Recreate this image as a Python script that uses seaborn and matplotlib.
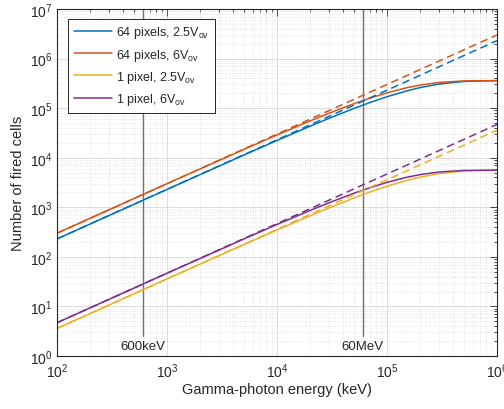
import numpy as np
import pandas as pd
import matplotlib
matplotlib.use("Agg")
import matplotlib.pyplot as plt
from matplotlib.ticker import LogLocator, NullFormatter
from matplotlib.lines import Line2D
import seaborn as sns

# Gamma-photon energy (keV)
energy = [100, 1000, 5000, 10000, 20000, 30000, 50000, 70000,
          100000, 150000, 200000, 300000, 500000, 1000000]

# Fired cells, including saturation of the finite cell count
px64_25 = [230, 2293, 11318, 22282, 43186, 62791, 98435, 129812,
           169963, 221929, 259686, 307044, 345244, 359395]
px64_6 = [300, 2988, 14692, 28786, 55267, 79632, 122674, 159106,
          203544, 256860, 292003, 330449, 354418, 359913]
px1_25 = [3.59, 35.83, 176.8, 348.2, 674.8, 981.1, 1538.0, 2028.3,
          2655.7, 3467.6, 4057.6, 4797.6, 5394.4, 5615.5]
px1_6 = [4.69, 46.69, 229.6, 449.8, 863.5, 1244.3, 1916.8, 2486.0,
         3180.4, 4013.4, 4562.5, 5163.3, 5537.8, 5623.6]

# Linear response without saturation (dashed)
energy_lin = [100, 1000000]
lin64_25 = [230, 2300000]
lin64_6 = [300, 3000000]
lin1_25 = [3.594, 35938]
lin1_6 = [4.6875, 46875]

labels = ["64 pixels, 2.5V$_{\\mathrm{ov}}$", "64 pixels, 6V$_{\\mathrm{ov}}$",
          "1 pixel, 2.5V$_{\\mathrm{ov}}$", "1 pixel, 6V$_{\\mathrm{ov}}$"]
colors = ["#0072BD", "#D95319", "#EDB120", "#7E2F8E"]

markers_x = [600, 60000]
marker_text = ["600keV", "60MeV"]

sns.set_theme(style="white")
plt.rcParams["font.family"] = ["Liberation Sans", "DejaVu Sans"]
plt.rcParams["mathtext.fontset"] = "custom"
plt.rcParams["mathtext.rm"] = "Liberation Sans"
plt.rcParams["mathtext.it"] = "Liberation Sans:italic"

fig = plt.figure(figsize=(5.04, 4.10), dpi=100)
ax = fig.add_axes([57 / 504, 53 / 410, 440 / 504, 347 / 410])

solid = [px64_25, px64_6, px1_25, px1_6]
dashed = [lin64_25, lin64_6, lin1_25, lin1_6]
for ys, c in zip(solid, colors):
    sns.lineplot(x=energy, y=ys, color=c, lw=1.1, ax=ax, legend=False,
                 estimator=None, sort=False)
for ys, c in zip(dashed, colors):
    sns.lineplot(x=energy_lin, y=ys, color=c, lw=1.1, ax=ax, legend=False,
                 estimator=None, sort=False, linestyle=(0, (5, 3)))

ax.set_xscale("log")
ax.set_yscale("log")
ax.set_xlim(1e2, 1e6)
ax.set_ylim(1, 1e7)

# reference energies
for xv, t in zip(markers_x, marker_text):
    ax.axvline(xv, ymin=0.057, ymax=1, color="#707070", lw=1.0, zorder=1)
    ax.text(xv, 1.6, t, ha="center", va="center", fontsize=9.5, color="#262626")

ax.xaxis.set_major_locator(LogLocator(base=10, numticks=10))
ax.yaxis.set_major_locator(LogLocator(base=10, numticks=10))
ax.xaxis.set_minor_locator(LogLocator(base=10, subs=np.arange(2, 10), numticks=20))
ax.yaxis.set_minor_locator(LogLocator(base=10, subs=np.arange(2, 10), numticks=20))
ax.xaxis.set_minor_formatter(NullFormatter())
ax.yaxis.set_minor_formatter(NullFormatter())

ax.grid(True, which="major", color="#dcdcdc", lw=0.7, ls="-", zorder=0)
ax.grid(True, which="minor", color="#d8d8d8", lw=0.6, ls=(0, (1, 2)), zorder=0)
ax.set_axisbelow(True)

ax.tick_params(which="both", direction="in", top=True, right=True,
               colors="#262626", labelsize=10, width=0.6)
ax.tick_params(which="major", length=5)
ax.tick_params(which="minor", length=2.5)
ax.tick_params(axis="x", pad=4)
for s in ax.spines.values():
    s.set_color("#262626")
    s.set_linewidth(0.8)

ax.set_xlabel("Gamma-photon energy (keV)", fontsize=10.5, color="#262626", labelpad=1)
ax.set_ylabel("Number of fired cells", fontsize=10.5, color="#262626", labelpad=3)

handles = [Line2D([], [], color=c, lw=1.1) for c in colors]
leg = ax.legend(handles, labels, loc="upper left", bbox_to_anchor=(0.025, 0.972),
                fontsize=9, frameon=True, fancybox=False, framealpha=1,
                edgecolor="#262626", handlelength=3.1, handletextpad=0.3,
                labelspacing=0.5, borderpad=0.45, borderaxespad=0)
leg.get_frame().set_linewidth(0.7)

fig.savefig("out.png", dpi=100)
